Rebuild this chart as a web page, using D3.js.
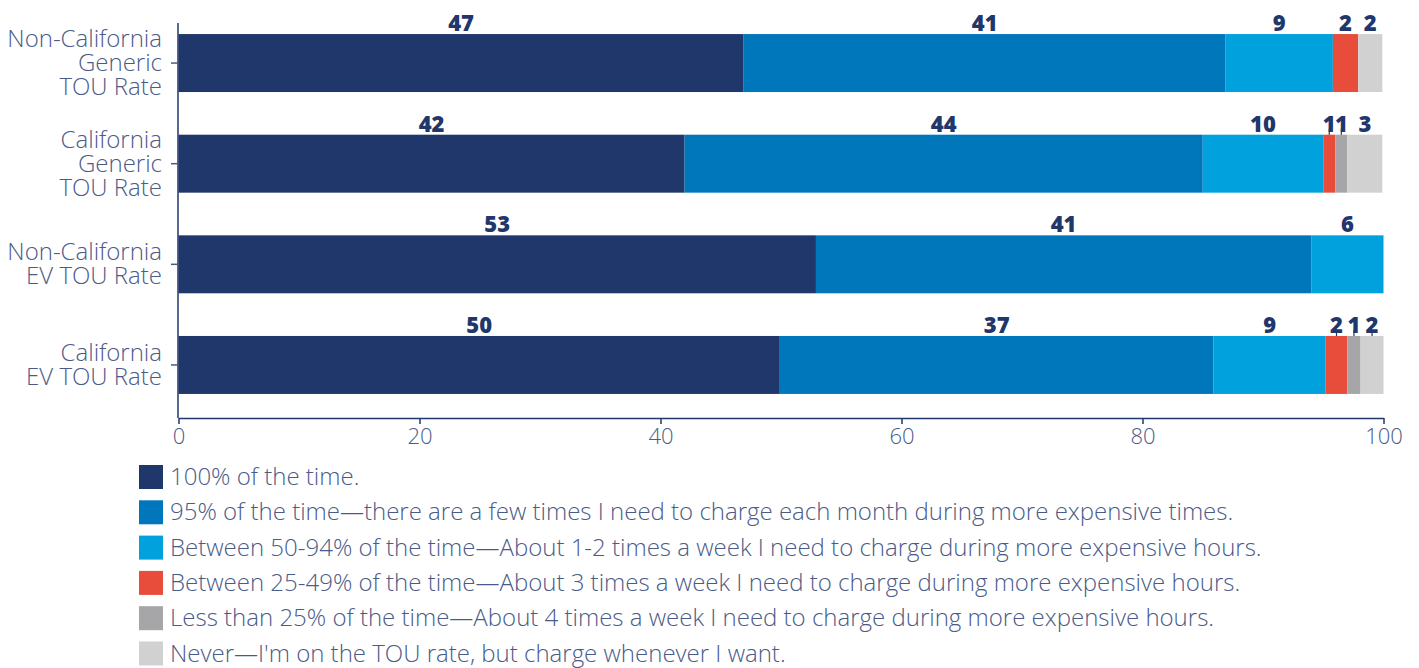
<!DOCTYPE html>
<html>
<head>
<meta charset="utf-8">
<script src="https://d3js.org/d3.v7.min.js"></script>
<style>
  body { margin: 0; background: #fff; }
  svg text { font-family: "Open Sans", sans-serif; }
</style>
</head>
<body>
<svg id="chart" width="1419" height="668"></svg>
<script>
// categories (top to bottom)
var categories = [
  ["Non-California", "Generic", "TOU Rate"],
  ["California", "Generic", "TOU Rate"],
  ["Non-California", "EV TOU Rate"],
  ["California", "EV TOU Rate"]
];
// series names
var seriesNames = [
  "100% of the time.",
  "95% of the time\u2014there are a few times I need to charge each month during more expensive times.",
  "Between 50-94% of the time\u2014About 1-2 times a week I need to charge during more expensive hours.",
  "Between 25-49% of the time\u2014About 3 times a week I need to charge during more expensive hours.",
  "Less than 25% of the time\u2014About 4 times a week I need to charge during more expensive hours.",
  "Never\u2014I'm on the TOU rate, but charge whenever I want."
];
var colors = ["#1f376b", "#0077bb", "#00a1dc", "#e84c3a", "#a6a6a8", "#d1d1d1"];

// segment widths (percent), one array per series, per category
var s100   = [46.9, 42.0, 52.9, 49.9];
var s95    = [40.0, 43.0, 41.1, 36.0];
var s50_94 = [8.9, 10.0, 6.0, 9.3];
var s25_49 = [2.1, 1.0, 0, 1.8];
var sLt25  = [0, 1.0, 0, 1.1];
var sNever = [2.0, 2.9, 0, 1.9];
// printed labels (rounded values as shown)
var lab100   = ["47", "42", "53", "50"];
var lab95    = ["41", "44", "41", "37"];
var lab50_94 = ["9", "10", "6", "9"];
var lab25_49 = ["2", "1", "", "2"];
var labLt25  = ["", "1", "", "1"];
var labNever = ["2", "3", "", "2"];

var xTicks = [0, 20, 40, 60, 80, 100];

var seriesVals = [s100, s95, s50_94, s25_49, sLt25, sNever];
var seriesLabs = [lab100, lab95, lab50_94, lab25_49, labLt25, labNever];

var svg = d3.select("#chart");
var navy = "#1f376b";
var slate = "#4a5b88";

var x = d3.scaleLinear().domain([0, 100]).range([178.5, 1383.5]);
var y = d3.scaleBand()
  .domain(d3.range(categories.length))
  .range([24, 404])
  .paddingInner(0.424)
  .paddingOuter(0.1);

// stacked segments
var segs = [];
categories.forEach(function(c, i) {
  var acc = 0;
  seriesVals.forEach(function(vals, k) {
    var v = vals[i];
    segs.push({row: i, k: k, x0: acc, x1: acc + v, label: seriesLabs[k][i]});
    acc += v;
  });
});

svg.append("g").selectAll("rect")
  .data(segs.filter(function(d) { return d.x1 > d.x0; }))
  .enter().append("rect")
  .attr("x", function(d) { return x(d.x0); })
  .attr("y", function(d) { return y(d.row); })
  .attr("width", function(d) { return x(d.x1) - x(d.x0); })
  .attr("height", y.bandwidth())
  .attr("fill", function(d) { return colors[d.k]; });

// value labels above bars
var labelled = segs.filter(function(d) { return d.label !== ""; });
svg.append("g").selectAll("text")
  .data(labelled)
  .enter().append("text")
  .attr("x", function(d) { return x((d.x0 + d.x1) / 2); })
  .attr("y", function(d) { return y(d.row) - 3; })
  .attr("text-anchor", "middle")
  .attr("fill", navy)
  .style("font-size", "22px")
  .style("font-weight", 800)
  .text(function(d) { return d.label; });

// little leader lines for narrow segments
svg.append("g").selectAll("line")
  .data(labelled.filter(function(d) { return d.x1 - d.x0 < 2; }))
  .enter().append("line")
  .attr("x1", function(d) { return x((d.x0 + d.x1) / 2); })
  .attr("x2", function(d) { return x((d.x0 + d.x1) / 2); })
  .attr("y1", function(d) { return y(d.row) - 6; })
  .attr("y2", function(d) { return y(d.row); })
  .attr("stroke", navy)
  .attr("stroke-width", 1.2);

// x axis
var xAxis = svg.append("g")
  .attr("transform", "translate(0,418)")
  .call(d3.axisBottom(x).tickValues(xTicks).tickSize(6).tickSizeOuter(0).tickPadding(4));
xAxis.select(".domain").attr("stroke", navy).attr("stroke-width", 1.5);
xAxis.selectAll(".tick line").attr("stroke", navy).attr("stroke-width", 1.5);
xAxis.selectAll(".tick text")
  .attr("fill", slate)
  .style("font-size", "22px")
  .style("font-weight", 300)
  .style("font-family", "'Open Sans', sans-serif");

// y axis
svg.append("line")
  .attr("x1", 178).attr("x2", 178)
  .attr("y1", 23).attr("y2", 418)
  .attr("stroke", navy).attr("stroke-width", 1.5);

var yAxis = svg.append("g").selectAll("g")
  .data(categories)
  .enter().append("g")
  .attr("transform", function(d, i) { return "translate(178," + (y(i) + y.bandwidth() / 2) + ")"; });
yAxis.append("line")
  .attr("x1", -7).attr("x2", 0)
  .attr("stroke", slate).attr("stroke-width", 1.5);
yAxis.append("text")
  .attr("text-anchor", "end")
  .attr("fill", slate)
  .style("font-size", "24px")
  .style("font-weight", 300)
  .each(function(lines) {
    var t = d3.select(this);
    var n = lines.length;
    lines.forEach(function(line, j) {
      t.append("tspan")
        .attr("x", -16)
        .attr("y", (j - (n - 1) / 2) * 24 + 8)
        .text(line);
    });
  });

// legend
var legend = svg.append("g").selectAll("g")
  .data(seriesNames)
  .enter().append("g")
  .attr("transform", function(d, i) { return "translate(139," + (465 + i * 35.3) + ")"; });
legend.append("rect")
  .attr("width", 24).attr("height", 24)
  .attr("fill", function(d, i) { return colors[i]; });
legend.append("text")
  .attr("x", 31)
  .attr("y", 20)
  .attr("fill", slate)
  .style("font-size", "24px")
  .style("font-weight", 300)
  .text(function(d) { return d; });
</script>
</body>
</html>
